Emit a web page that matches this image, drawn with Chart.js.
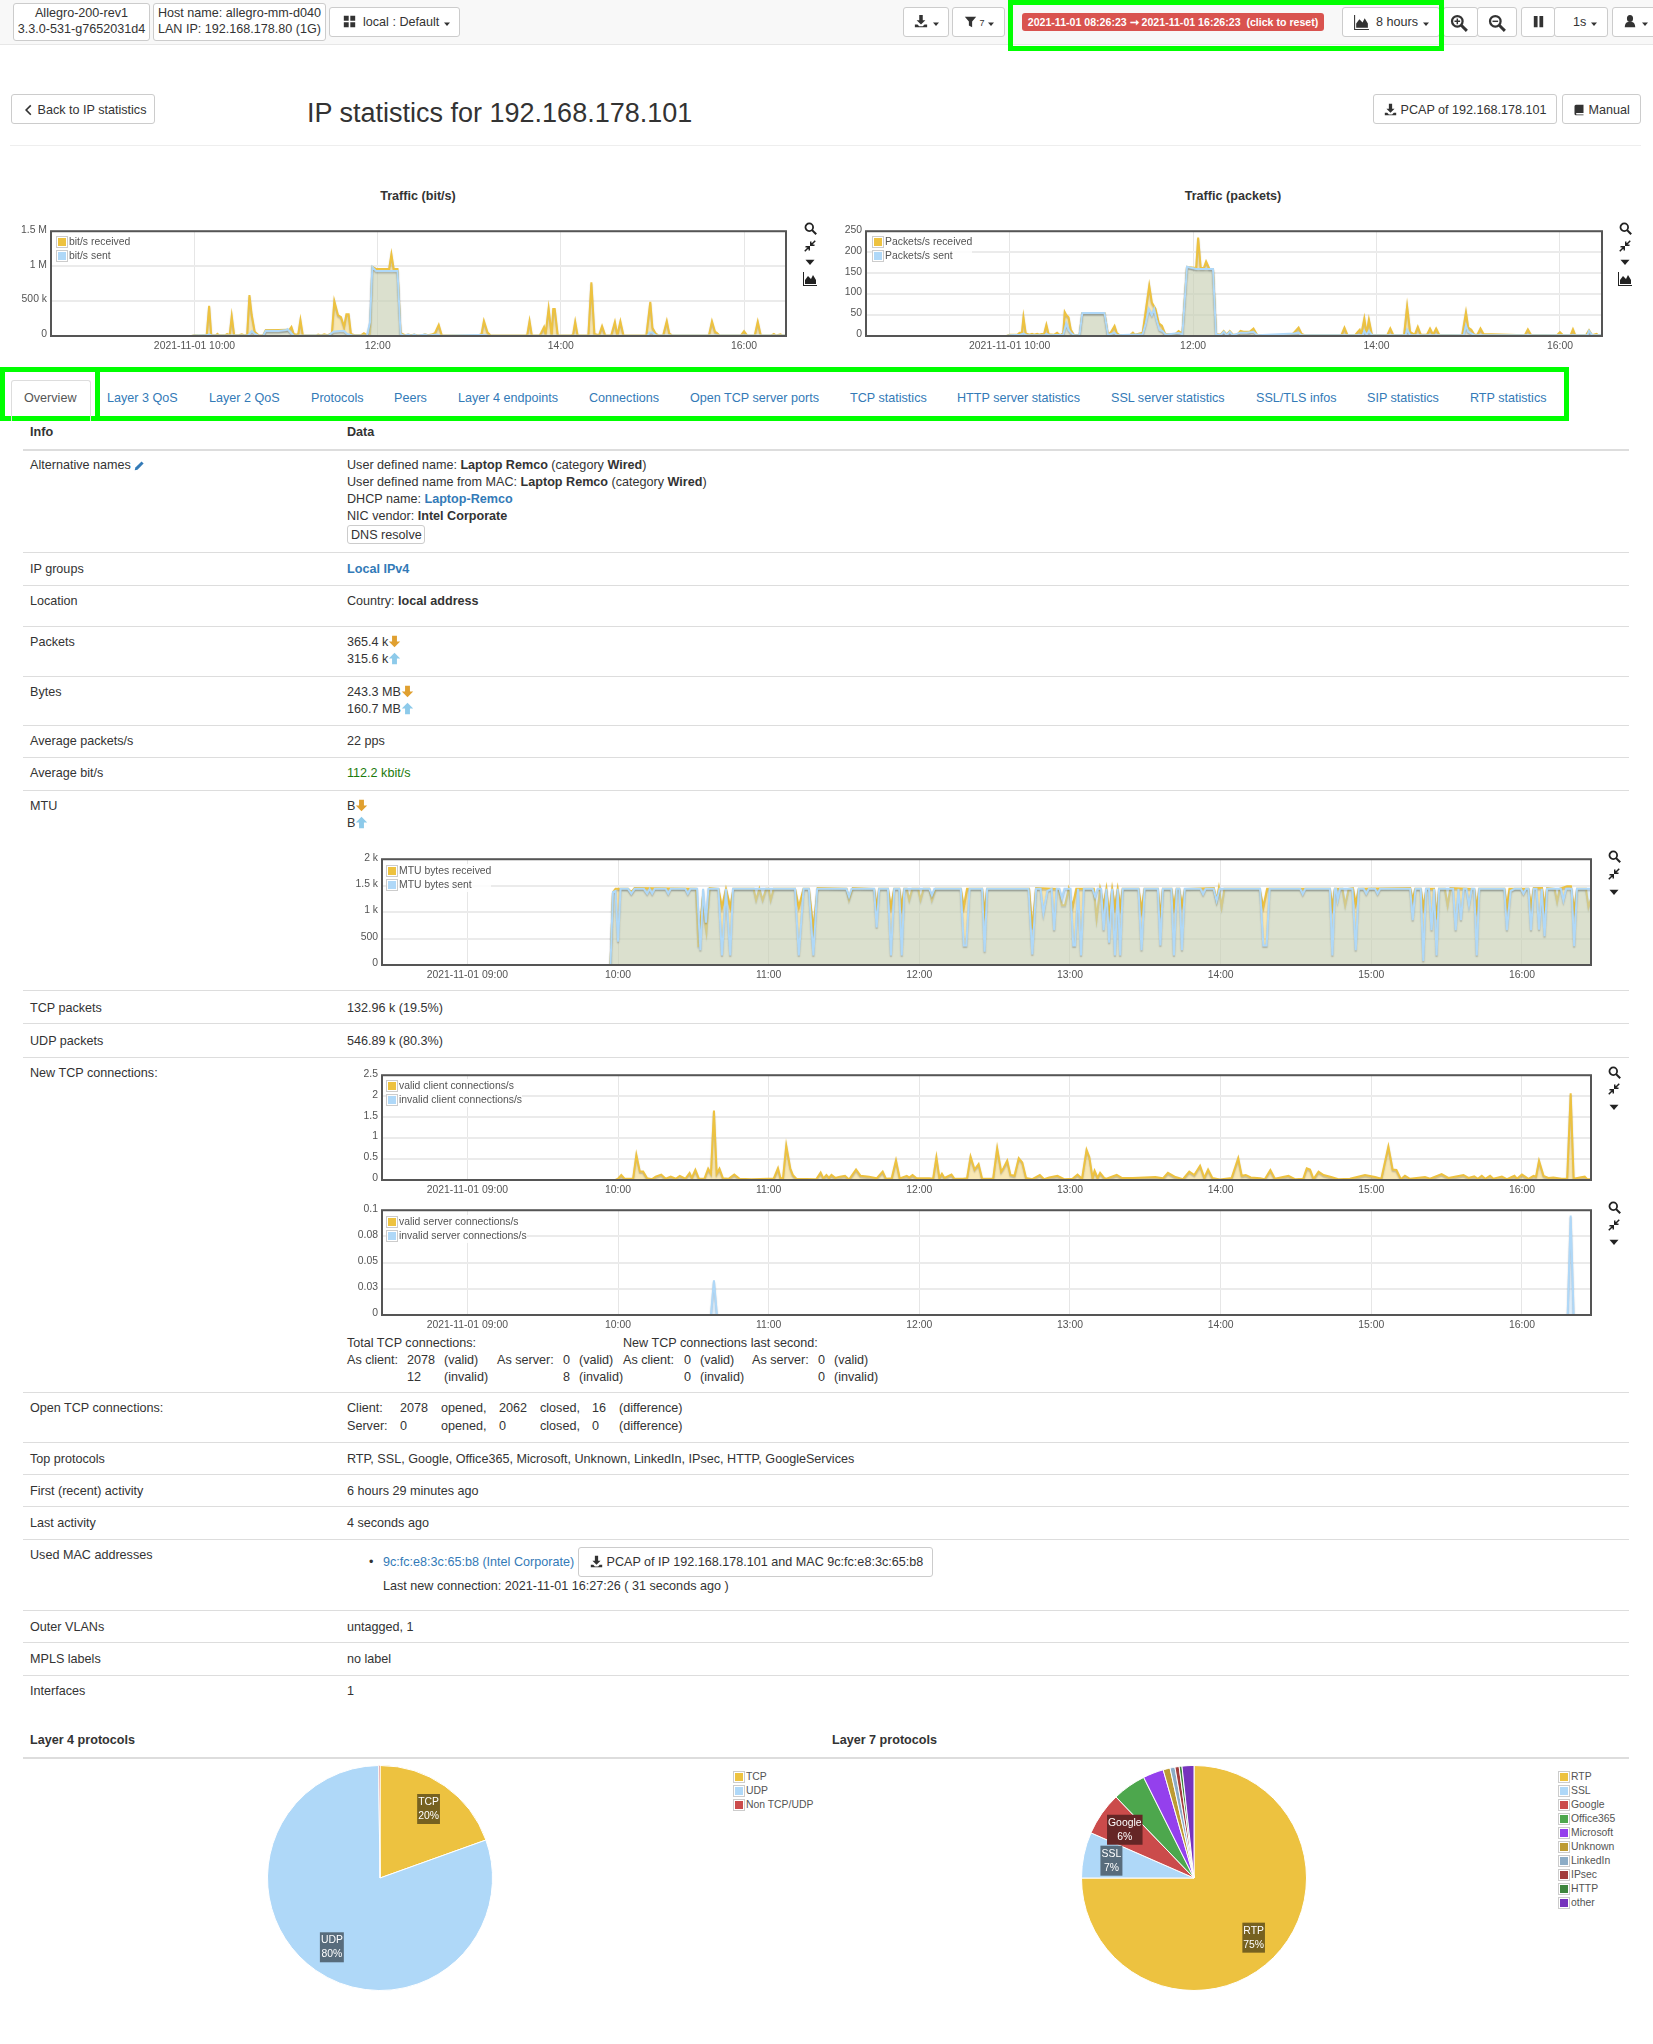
<!DOCTYPE html>
<html>
<head>
<meta charset="utf-8">
<title>IP statistics for 192.168.178.101</title>
<script src="https://cdn.jsdelivr.net/npm/chart.js@4"></script>
<style>
  html, body { margin: 0; background: #fff; }
  #page { position: relative; width: 1653px; height: 2044px; overflow: hidden;
          font: 12.6px "Liberation Sans", Arial, sans-serif; color: #333; }
  #page a { color: #337ab7; }
  .txt { position: absolute; white-space: nowrap; height: 16px; line-height: 16px; }
  .box { position: absolute; box-sizing: border-box; }
  .btn { position: absolute; box-sizing: border-box; border: 1px solid #ccc; border-radius: 3px; background: #fff; }
  .sep { position: absolute; left: 23px; width: 1606px; height: 1px; background: #ddd; }
  canvas { position: absolute; }
  svg { vertical-align: -2px; }
  .legend { position: absolute; background: rgba(255,255,255,0.85); font-size: 10.4px; color: #545454; }
  .legend i { display: inline-block; box-sizing: border-box; width: 12px; height: 12px; border: 1px solid #ccc;
              padding: 1px; margin-right: 1px; vertical-align: middle; background-clip: content-box; }
  .legend div { height: 14px; line-height: 14px; white-space: nowrap; }
</style>
</head>
<body>
<div id="page"></div>
<script>
// x values are minutes after 10:00, pairs are [minute, value]
const timeRange = [-94, 387.5];
const ticks2h = [0, 120, 240, 360];
const labels2h = ['2021-11-01 10:00', '12:00', '14:00', '16:00'];
const ticks1h = [-60, 0, 60, 120, 180, 240, 300, 360];
const labels1h = ['2021-11-01 09:00', '10:00', '11:00', '12:00', '13:00', '14:00', '15:00', '16:00'];

const bitsReceived = [[-94,0],[-2,0],[0,12000],[3,8000],[8,15000],[9.6,433000],[11,15000],[14,12000],[15,30000],[16,10000],[20,10000],[21.4,30000],[23,10000],[24.4,288000],[26,12000],[29,10000],[31,25000],[33,8000],[34.5,20000],[36,586000],[37.5,300000],[39.5,60000],[42,12000],[45,8000],[46.7,85000],[55,85000],[60,90000],[62,85000],[63.5,130000],[65,30000],[67,20000],[68,30000],[69.4,230000],[71,10000],[80,8000],[81,20000],[83,8000],[85,25000],[87,10000],[90,40000],[91.6,500000],[94,300000],[96,270000],[98,130000],[99.5,310000],[101,310000],[102.5,30000],[105,10000],[109,10000],[111,40000],[113,10000],[115,30000],[116.5,990000],[119,960000],[127.5,960000],[129,1170000],[130.5,960000],[133,960000],[135,40000],[138,12000],[140,20000],[142,10000],[144,20000],[146,8000],[149,8000],[151,25000],[153,10000],[156,25000],[157.5,40000],[160,160000],[162,10000],[165,6000],[185,8000],[187,20000],[188,25000],[189.6,215000],[192,50000],[194,8000],[217,6000],[218,20000],[219.5,215000],[221,8000],[226,8000],[227,40000],[229,130000],[230,30000],[232,395000],[234,10000],[235,385000],[236,385000],[238,8000],[247,8000],[248,20000],[249.4,205000],[251,8000],[258,8000],[260,770000],[262,30000],[265,10000],[267,140000],[269,12000],[273,8000],[275.4,200000],[277,12000],[279,210000],[281,10000],[296,8000],[298.6,490000],[300,120000],[302,40000],[304,8000],[307,8000],[309.4,215000],[311,40000],[313,8000],[337,8000],[339,210000],[341,60000],[342,50000],[344,8000],[358,8000],[360,70000],[362,8000],[367,8000],[369,205000],[371,8000],[378,8000],[379.6,30000],[381,8000],[384,25000],[385,8000],[387.5,8000]];
const bitsSent = [[-94,0],[-2,0],[0,8000],[8,10000],[9.6,25000],[11,8000],[35,10000],[36,25000],[37.5,70000],[39.5,30000],[42,5000],[45,5000],[46.7,75000],[55,70000],[60,85000],[61,100000],[63,50000],[65,5000],[88,10000],[91,60000],[95,70000],[98,70000],[100,30000],[103,10000],[113,5000],[115,200000],[116.5,990000],[119,930000],[127,930000],[133,930000],[135,30000],[137,5000],[140,20000],[142,5000],[144,20000],[146,5000],[151,20000],[153,8000],[159,20000],[161,5000],[186,15000],[190,15000],[192,5000],[297,8000],[298,50000],[300,50000],[302,10000],[387.5,8000]];

const packetsReceived = [[-94,0],[-2,0],[0,3],[5,3],[6.5,8],[8,8],[9,45],[10.5,6],[13,3],[14.6,5],[16,3],[18,5],[19.5,3],[20.7,5],[22.5,5],[24,27],[25.5,4],[29,3],[31,8],[33,2],[35,6],[36,57],[37,50],[38.5,45],[40,15],[42,3],[45.7,2],[47.5,55],[62,55],[64.3,3],[66,8],[68.6,24],[70,8],[72,2],[79,3],[80.6,8],[82,3],[85,6],[87,8],[91.3,120],[93,80],[95.4,65],[97.6,30],[99.6,25],[101.7,5],[108,3],[110.5,12],[113,5],[116,165],[122,162],[123.3,235],[125,162],[127,162],[128.5,178],[130.7,160],[133,160],[135,5],[138,3],[140,12],[142,3],[144,12],[146,3],[149,3],[151,12],[153,10],[157,10],[159.5,18],[162,2],[184,2],[186,8],[189,20],[191,5],[193,2],[217,2],[219,20],[221,2],[226,2],[227.7,10],[229,15],[230,4],[232,42],[233.5,5],[235,39],[237,3],[247,2],[249,18],[251,2],[258,2],[260,71],[262,10],[265,3],[267,22],[269,3],[273,3],[275,18],[277,3],[279,18],[281,3],[296,2],[298.5,57],[300,20],[302,15],[304,3],[306,3],[308,18],[310,5],[337,2],[339,16],[341,3],[358,2],[360,9],[362,2],[367,2],[368.5,16],[370,2],[377,2],[379,14],[381,2],[384,5],[385,2],[387.5,2]];
const packetsSent = [[-94,0],[-2,0],[0,2],[7,3],[9,6],[11,2],[23,2],[24,5],[26,2],[35,3],[37,30],[38.5,15],[40,8],[42,2],[45.7,2],[47.5,55],[62,55],[64.3,2],[68.6,8],[70,2],[87,4],[89,30],[91,65],[93,50],[94.5,65],[96,40],[98,15],[100,12],[102,3],[110.5,7],[113,4],[116,165],[122,160],[133,160],[135,4],[138,2],[140,10],[142,2],[144,10],[146,2],[151,8],[155,8],[159.5,10],[162,2],[186,6],[189,8],[191,2],[231,2],[232,12],[233.5,3],[235,12],[237,2],[259,2],[260,15],[262,2],[297,2],[298.5,25],[300,10],[302,6],[304,2],[378,2],[379,12],[381,2],[387.5,2]];

const mtuReceived = [[-94,0],[-3,0],[-2,1380],[-1,1440],[4,1440],[5.3,1380],[6.6,1455],[31,1440],[32,340],[33.5,1150],[35.2,630],[36.5,1455],[40,1440],[41.4,1100],[43,1440],[44.7,1100],[46,1440],[54,1440],[55,1230],[56.3,1440],[57.6,1230],[59,1440],[60,1440],[60.8,1230],[62,1440],[70.5,1440],[72,1100],[73.9,1440],[76,1440],[77.8,690],[79.5,1455],[91,1440],[92,1230],[93.5,1455],[102,1440],[103,1100],[104,1440],[107.5,1440],[108.7,1100],[110,1440],[112,1440],[113,1100],[114,1440],[115,1440],[116,1230],[117.2,1440],[119.5,1440],[120.5,1230],[121.7,1440],[124,1440],[125,1230],[126.5,1440],[136.5,1440],[137.7,1100],[139,1440],[145,1440],[146,1000],[147,1440],[163.7,1440],[165,690],[166.5,1455],[175.5,1440],[176.8,1130],[178,1130],[179.5,1440],[181,1100],[182.5,1440],[189.5,1440],[190.6,880],[192,1440],[193.4,1130],[194.5,1440],[195.6,940],[196.8,1440],[197.9,1100],[199,1440],[200,1100],[201,1440],[207.3,1440],[208.5,1040],[209.7,1440],[215,1440],[216,910],[217,1440],[220.4,1440],[221.4,1100],[222.5,1440],[223.5,1440],[224.6,1130],[225.8,1440],[237.3,1455],[238.4,1210],[239.3,1455],[240.4,1100],[241.5,1440],[255.5,1440],[257,1100],[258.5,1440],[283.5,1440],[284.5,1100],[285.5,1440],[288.5,1440],[289.6,1130],[291,1440],[292.7,1455],[293.8,1160],[295,1440],[315.5,1455],[316.5,1230],[317.5,1440],[319.7,1440],[320.7,1100],[322,1440],[325,1440],[326,880],[327,1440],[329.3,1440],[330.4,1130],[331.5,1455],[341,1440],[342,1070],[343,1440],[353,1440],[354,1100],[355,1440],[362.6,1440],[363.6,1100],[364.7,1455],[368,1455],[369,1100],[370,1455],[373,1440],[374,1200],[375,1440],[378,1490],[379.5,1490],[380.8,1040],[382,1440],[385.5,1440],[386.5,1100],[387.5,1250]];
const mtuSent = [[-94,0],[-3,0],[-2,1380],[-1,1400],[0,440],[1,1440],[4,1440],[5.3,1350],[6.6,1440],[10.3,1440],[11.6,1350],[12.6,1440],[13.6,1350],[14.6,1440],[19,1440],[20,1350],[21,1440],[26.8,1440],[27.8,1350],[28.8,1440],[31.5,1440],[32.8,280],[33.9,1440],[35,800],[36,1440],[40,1440],[41.4,180],[43,1440],[44.7,180],[45.8,1440],[70.5,1440],[72,180],[73.9,1440],[76,1440],[77.8,180],[79.3,1440],[91,1440],[92,1290],[93,1440],[102,1440],[103,710],[104,1440],[107.5,1440],[108.7,180],[110,1440],[112,1440],[113,180],[114,1440],[124,1440],[125,1320],[126,1440],[136.5,1440],[137.7,370],[138.7,370],[140,1440],[145,1440],[146,250],[147,1440],[163.5,1440],[165,200],[166.5,1440],[168.3,1440],[169.4,975],[171,1400],[172.7,1440],[173.7,660],[174.7,1440],[175.8,1440],[176.8,1260],[177.8,1440],[180.2,1440],[181.3,370],[182,370],[183.2,1440],[184.4,180],[185.5,1440],[189,1440],[190,1290],[191,1440],[192.4,1440],[193.4,660],[194.5,1440],[195.6,420],[196.8,1440],[197.9,180],[199,1440],[200,180],[201,1440],[207.3,1440],[208.5,280],[209.7,1440],[215,1440],[216,370],[217,1440],[220.4,1440],[221.4,180],[222.5,1440],[223.6,1440],[224.6,280],[225.7,1440],[232,1440],[233,1340],[234,1440],[237.2,1440],[238.4,1210],[239.6,1440],[255.7,1440],[257,370],[258.3,370],[259.5,1440],[271.7,1440],[272.7,1340],[273.7,1440],[283.5,1440],[284.5,180],[285.5,1440],[286,1440],[286.6,1230],[287.5,1440],[292.5,1440],[293.8,280],[295,1440],[297,1440],[298,1350],[299,1440],[301.5,1440],[302.5,1350],[303.5,1440],[315.5,1440],[316.5,850],[317.6,1440],[319.7,1440],[320.7,75],[321.8,1440],[323,1440],[324,660],[325,1440],[326,180],[327,1440],[332.6,1440],[333.6,660],[334.7,1440],[335.7,850],[336.8,1440],[337.9,1440],[338.9,1130],[340,1440],[341,1440],[342,180],[343,1440],[353,1440],[354,660],[355.5,1400],[357,1440],[359.6,1440],[360.6,1350],[361.6,1440],[362.6,1440],[363.6,660],[364.7,1440],[365.8,1440],[366.8,670],[367.9,1440],[369,545],[370,1440],[375.5,1440],[376.5,1220],[377.6,1440],[379.8,1440],[380.8,355],[381.9,1440],[387.5,1440]];

const clientValid = [[-94,0],[-1,0],[0,0.03],[1.3,0.12],[2.6,0.03],[6,0.03],[7.3,0.6],[8.7,0.2],[10,0.2],[11.6,0.04],[13.6,0.02],[15,0.08],[17.2,0.13],[19,0.03],[21,0.08],[23,0.03],[24.6,0.1],[26.8,0.03],[28.5,0.17],[29.4,0.05],[30.8,0.24],[32.2,0.03],[34.4,0.03],[35.9,0.27],[37,0.15],[38.2,1.66],[39.3,0.15],[40.4,0.27],[41.8,0.04],[44,0.03],[46.3,0.13],[48.4,0.03],[53,0.02],[60,0.03],[62,0.03],[63.7,0.28],[64.7,0.04],[65.7,0.04],[67,0.82],[68.6,0.28],[69.6,0.12],[71,0.03],[79,0.02],[80.7,0.18],[81.8,0.04],[83,0.12],[84,0.05],[85,0.12],[86.5,0.05],[88.4,0.08],[90.4,0.1],[92,0.01],[94.8,0.25],[96.6,0.1],[100,0.08],[103,0.04],[105.4,0.2],[106.7,0.03],[109,0.04],[110.7,0.47],[112.2,0.04],[115,0.1],[116,0.06],[117.3,0.12],[118.9,0.04],[124,0.04],[125.5,0.03],[126.8,0.54],[128,0.05],[129,0.15],[130,0.05],[132.8,0.13],[134,0.03],[137.4,0.03],[139,0.04],[140.4,0.56],[142,0.25],[143.6,0.38],[145,0.03],[149.4,0.03],[151,0.76],[152.6,0.2],[153.5,0.28],[155,0.46],[156.3,0.12],[157.9,0.1],[159.6,0.52],[161,0.42],[162.5,0.05],[165,0.02],[168,0.12],[169.7,0.02],[171.7,0.06],[175,0.1],[177.7,0.02],[181,0.03],[183,0.13],[184.8,0.03],[186.6,0.72],[187.7,0.55],[189,0.05],[189.8,0.22],[191,0.05],[192,0.17],[193.6,0.05],[194.5,0.03],[198.6,0.12],[200.6,0.05],[205,0.05],[214,0.07],[217,0.04],[219,0.17],[222,0.07],[225,0.02],[227.5,0.2],[229.5,0.12],[231.8,0.34],[233.5,0.05],[235,0.25],[236.7,0.05],[239.7,0.01],[244.4,0.05],[247,0.52],[248.4,0.1],[250,0.12],[252,0.06],[255.7,0.04],[257.6,0.02],[259.8,0.24],[261.6,0.03],[267,0.1],[269.6,0.02],[272.9,0.03],[274.3,0.28],[275.6,0.25],[277,0.02],[279,0.2],[281,0.12],[284,0.07],[286.9,0.02],[291.5,0.03],[297.5,0.12],[301.5,0.07],[304,0.03],[306.8,0.8],[308.5,0.25],[310,0.24],[311.8,0.02],[313.4,0.1],[315.4,0.03],[321.4,0.07],[323.4,0.03],[328,0.14],[330.7,0.05],[336.7,0.12],[338.7,0.05],[341,0.09],[342.4,0.03],[344,0.1],[345.4,0.03],[347.3,0.1],[348.6,0.03],[352,0.08],[354,0.02],[357,0.1],[358,0.03],[360,0.13],[362.6,0.03],[364.6,0.1],[365.6,0.08],[366.8,0.46],[368.6,0.1],[370.5,0.05],[372.5,0.06],[375.8,0.03],[378,0.03],[379.4,2.07],[380.6,0.03],[383,0.06],[385,0.08],[386,0.02],[387.5,0.02]];
const clientInvalid = [[-94,0],[387.5,0]];
const serverValid = [[-94,0],[387.5,0]];
const serverInvalid = [[-94,0],[37,0],[38.2,0.033],[39.4,0],[378.2,0],[379.4,0.095],[380.6,0],[387.5,0]];

const bitsYTicks = [0, 500000, 1000000, 1500000];
const bitsYLabels = ['0', '500 k', '1 M', '1.5 M'];
const packetsYTicks = [0, 50, 100, 150, 200, 250];
const packetsYLabels = ['0', '50', '100', '150', '200', '250'];
const mtuYTicks = [0, 500, 1000, 1500, 2000];
const mtuYLabels = ['0', '500', '1 k', '1.5 k', '2 k'];
const clientYTicks = [0, 0.5, 1, 1.5, 2, 2.5];
const clientYLabels = ['0', '0.5', '1', '1.5', '2', '2.5'];
const serverYTicks = [0, 0.025, 0.05, 0.075, 0.1];
const serverYLabels = ['0', '0.03', '0.05', '0.08', '0.1'];

const l4Names = ['TCP', 'UDP', 'Non TCP/UDP'];
const l4Values = [132.96, 546.89, 1.3];
const l7Names = ['RTP', 'SSL', 'Google', 'Office365', 'Microsoft', 'Unknown', 'LinkedIn', 'IPsec', 'HTTP', 'other'];
const l7Values = [74.7, 6.55, 6.2, 4.8, 2.95, 1, 0.7, 0.6, 0.4, 1.7];
const PIE_COLORS = ['#edc240', '#afd8f8', '#cb4b4b', '#4da74d', '#9440ed', '#bd9b33', '#8cacc6', '#a23c3c', '#3d853d', '#7633bd'];
const YELLOW = '#edc240', BLUE = '#afd8f8';

const page = document.getElementById('page');

function add(cls, style, html) {
  const el = document.createElement('div');
  el.className = cls;
  el.style.cssText = style;
  if (html) el.innerHTML = html;
  page.appendChild(el);
  return el;
}

function put(x, cy, html, style) {
  return add('txt', `left:${x}px;top:${cy - 7.5}px;${style || ''}`, html);
}

function sep(y, thick) {
  add('sep', `top:${y}px;${thick ? 'height:2px;' : ''}`);
}

function btn(x1, y1, x2, y2, style) {
  add('btn', `left:${x1}px;top:${y1}px;width:${x2 - x1}px;height:${y2 - y1}px;${style || ''}`);
}

const ICONS = {
  search: '<circle cx="6.5" cy="6.5" r="4.7" fill="none" stroke="C" stroke-width="2.2"/><path d="M10 10l5 5" stroke="C" stroke-width="2.6"/>',
  zoomin: '<circle cx="6.5" cy="6.5" r="4.7" fill="none" stroke="C" stroke-width="2"/><path d="M10 10l5 5" stroke="C" stroke-width="2.6"/><path d="M4 6.5h5M6.5 4v5" stroke="C" stroke-width="1.3"/>',
  zoomout: '<circle cx="6.5" cy="6.5" r="4.7" fill="none" stroke="C" stroke-width="2"/><path d="M10 10l5 5" stroke="C" stroke-width="2.6"/><path d="M4 6.5h5" stroke="C" stroke-width="1.3"/>',
  resize: '<path d="M15 1L10 6M9 2v5h5M1 15l5-5M2 9h5v5" fill="none" stroke="C" stroke-width="2"/>',
  caret: '<path d="M2 5h12l-6 7z" fill="C"/>',
  area: '<path d="M1 1h1v13h13v1H1zM3 13V9l3-4 3 3 2-4 3 5v4z" fill="C"/>',
  download: '<path d="M6 1h4v6h3l-5 5-5-5h3zM1 12h3l2 2h4l2-2h3v3H1z" fill="C"/>',
  filter: '<path d="M1 2h14l-5 6v7l-4-2V8z" fill="C"/>',
  th: '<path d="M1 1h6v6H1zM9 1h6v6H9zM1 9h6v6H1zM9 9h6v6H9z" fill="C"/>',
  pause: '<path d="M3 2h4v12H3zM9 2h4v12H9z" fill="C"/>',
  user: '<path d="M8 1a3.5 4 0 1 1 0 8 3.5 4 0 1 1 0-8zM2 15c0-4 2-6 4-6h4c2 0 4 2 4 6z" fill="C"/>',
  chevron: '<path d="M11 1L4 8l7 7 1.5-1.5L7 8l5.5-5.5z" fill="C"/>',
  book: '<path d="M4 1h10v11H5a1 1 0 0 0 0 2h9v1H4a2 2 0 0 1-2-2V3a2 2 0 0 1 2-2z" fill="C"/>',
  pencil: '<path d="M11 2l3 3-9 9-4 1 1-4z" fill="C"/>',
  down: '<path d="M5 1h6v7h4l-7 7-7-7h4z" fill="C"/>',
  up: '<path d="M8 1l7 7h-4v7H5V8H1z" fill="C"/>'
};

function icon(name, size, color) {
  const body = ICONS[name].replace(/C"/g, (color || '#333') + '"');
  return `<svg width="${size}" height="${size}" viewBox="0 0 16 16">${body}</svg>`;
}

function chartIcons(x, y1, y2, y3, y4) {
  put(x - 6, y1, icon('search', 13, '#222'));
  put(x - 6, y2, icon('resize', 12, '#222'));
  put(x - 6, y3, icon('caret', 12, '#222'));
  if (y4) put(x - 8, y4, icon('area', 16, '#222'));
}

function legend(x, y, names, colors) {
  const rows = names.map((n, i) =>
    `<div><i style="background-color:${colors[i]}"></i>${n}</div>`).join('');
  add('legend', `left:${x}px;top:${y}px;`, rows);
}

// ---- top bar
add('box', 'left:0;top:0;width:1653px;height:45px;background:#f8f8f8;border-bottom:1px solid #e7e7e7;');
btn(13, 3, 150, 41); btn(153, 3, 326, 41); btn(329, 7, 460, 37);
put(13, 12, 'Allegro-200-rev1', 'width:137px;text-align:center;');
put(13, 28.5, '3.3.0-531-g7652031d4', 'width:137px;text-align:center;');
put(153, 12, 'Host name: allegro-mm-d040', 'width:173px;text-align:center;');
put(153, 28.5, 'LAN IP: 192.168.178.80 (1G)', 'width:173px;text-align:center;');
put(343, 21, icon('th', 13) + '&nbsp;&nbsp;local : Default ' + icon('caret', 8));
btn(903, 7, 949, 37); btn(952, 7, 1005, 37);
put(914, 21, icon('download', 14) + ' ' + icon('caret', 8));
put(964, 21, icon('filter', 13) + '<span style="font-size:9px"> 7 </span>' + icon('caret', 8));
add('box', 'left:1022px;top:13px;width:302px;height:18px;background:#d9534f;border-radius:3px;');
put(1022, 21.5, '2021-11-01 08:26:23 ➞ 2021-11-01 16:26:23 &nbsp;(click to reset)',
  'width:302px;text-align:center;color:#fff;font-weight:bold;font-size:10.6px;');
btn(1342, 7, 1440, 37);
put(1353, 21, icon('area', 17));
put(1376, 21, '8 hours ' + icon('caret', 8));
btn(1443, 7, 1478, 37); btn(1477, 7, 1517, 37); btn(1521, 7, 1555, 37); btn(1554, 7, 1608, 37); btn(1612, 7, 1660, 37);
put(1450, 21, icon('zoomin', 18));
put(1488, 21, icon('zoomout', 18));
put(1531, 21, icon('pause', 15));
put(1573, 21, '1s ' + icon('caret', 8));
put(1623, 21, icon('user', 14) + ' ' + icon('caret', 8));

// ---- green highlight rectangles of the screenshot
add('box', 'left:1008px;top:0;width:436px;height:51px;border:5px solid #00ff00;');
add('box', 'left:0;top:367px;width:100px;height:54px;border:5px solid #00ff00;');
add('box', 'left:95px;top:367px;width:1474px;height:54px;border:5px solid #00ff00;');

// ---- title row
btn(11, 94, 155, 124);
put(22, 109, icon('chevron', 12) + ' Back to IP statistics');
put(307, 112, 'IP statistics for 192.168.178.101', 'font-size:27px;height:32px;line-height:32px;top:97px;');
btn(1373, 94, 1557, 124); btn(1562, 94, 1641, 124);
put(1384, 109, icon('download', 13) + ' PCAP of 192.168.178.101');
put(1573, 109, icon('book', 12) + ' Manual');
add('sep', 'top:145px;left:10px;width:1631px;background:#eee;');
put(218, 195, 'Traffic (bit/s)', 'width:400px;text-align:center;font-weight:bold;');
put(1033, 195, 'Traffic (packets)', 'width:400px;text-align:center;font-weight:bold;');

// ---- tabs
add('box', 'left:11px;top:380px;width:80px;height:41px;border:1px solid #ddd;border-bottom:none;border-radius:3px 3px 0 0;');
put(24, 397, 'Overview', 'color:#555;');
const tabNames = ['Layer 3 QoS', 'Layer 2 QoS', 'Protocols', 'Peers', 'Layer 4 endpoints', 'Connections',
  'Open TCP server ports', 'TCP statistics', 'HTTP server statistics', 'SSL server statistics',
  'SSL/TLS infos', 'SIP statistics', 'RTP statistics'];
const tabX = [107, 209, 311, 394, 458, 589, 690, 850, 957, 1111, 1256, 1367, 1470];
tabNames.forEach((n, i) => put(tabX[i], 397, n, 'color:#337ab7;'));

// ---- table
const L = 30, R = 347;
put(L, 431, 'Info', 'font-weight:bold;');
put(R, 431, 'Data', 'font-weight:bold;');
sep(449, true);
put(L, 464, 'Alternative names ' + icon('pencil', 11, '#337ab7'));
put(R, 464, 'User defined name: <b>Laptop Remco</b> (category <b>Wired</b>)');
put(R, 481, 'User defined name from MAC: <b>Laptop Remco</b> (category <b>Wired</b>)');
put(R, 498.5, 'DHCP name: <a><b>Laptop-Remco</b></a>');
put(R, 515.5, 'NIC vendor: <b>Intel Corporate</b>');
btn(347, 525, 425, 544);
put(351, 534.5, 'DNS resolve');
sep(552);
put(L, 568, 'IP groups');
put(R, 568, '<a><b>Local IPv4</b></a>');
sep(585);
put(L, 600, 'Location');
put(R, 600, 'Country: <b>local address</b>');
sep(626);
const DOWN = icon('down', 13, '#e0a030'), UP = icon('up', 13, '#8dcaea');
put(L, 641, 'Packets');
put(R, 641, '365.4 k' + DOWN);
put(R, 658, '315.6 k' + UP);
sep(676);
put(L, 691, 'Bytes');
put(R, 691, '243.3 MB' + DOWN);
put(R, 708, '160.7 MB' + UP);
sep(725);
put(L, 740, 'Average packets/s');
put(R, 740, '22 pps');
sep(757);
put(L, 772, 'Average bit/s');
put(R, 772, '112.2 kbit/s', 'color:#1c7a0c;');
sep(790);
put(L, 805, 'MTU');
put(R, 805, 'B' + DOWN);
put(R, 822, 'B' + UP);
sep(990);
put(L, 1007, 'TCP packets');
put(R, 1007, '132.96 k (19.5%)');
sep(1023);
put(L, 1040, 'UDP packets');
put(R, 1040, '546.89 k (80.3%)');
sep(1057);
put(L, 1072, 'New TCP connections:');
put(R, 1342, 'Total TCP connections:');
put(623, 1342, 'New TCP connections last second:');
const row2X = [347, 407, 444, 497, 563, 579, 623, 684, 700, 752, 818, 834];
['As client:', '2078', '(valid)', 'As server:', '0', '(valid)', 'As client:', '0', '(valid)', 'As server:', '0', '(valid)']
  .forEach((s, i) => put(row2X[i], 1359, s));
['', '12', '(invalid)', '', '8', '(invalid)', '', '0', '(invalid)', '', '0', '(invalid)']
  .forEach((s, i) => { if (s) put(row2X[i], 1376, s); });
sep(1392);
put(L, 1407, 'Open TCP connections:');
const openX = [347, 400, 441, 499, 540, 592, 619];
['Client:', '2078', 'opened,', '2062', 'closed,', '16', '(difference)'].forEach((s, i) => put(openX[i], 1407, s));
['Server:', '0', 'opened,', '0', 'closed,', '0', '(difference)'].forEach((s, i) => put(openX[i], 1425, s));
sep(1442);
put(L, 1458, 'Top protocols');
put(R, 1458, 'RTP, SSL, Google, Office365, Microsoft, Unknown, LinkedIn, IPsec, HTTP, GoogleServices');
sep(1474);
put(L, 1490, 'First (recent) activity');
put(R, 1490, '6 hours 29 minutes ago');
sep(1506);
put(L, 1522, 'Last activity');
put(R, 1522, '4 seconds ago');
sep(1539);
put(L, 1554, 'Used MAC addresses');
put(369, 1561, '•');
put(383, 1561, '<a>9c:fc:e8:3c:65:b8 (Intel Corporate)</a>');
btn(578, 1547, 933, 1577);
put(590, 1561, icon('download', 13) + ' PCAP of IP 192.168.178.101 and MAC 9c:fc:e8:3c:65:b8');
put(383, 1585, 'Last new connection: 2021-11-01 16:27:26 ( 31 seconds ago )');
sep(1610);
put(L, 1626, 'Outer VLANs');
put(R, 1626, 'untagged, 1');
sep(1642);
put(L, 1658, 'MPLS labels');
put(R, 1658, 'no label');
sep(1675);
put(L, 1690, 'Interfaces');
put(R, 1690, '1');
put(L, 1739, 'Layer 4 protocols', 'font-weight:bold;');
put(832, 1739, 'Layer 7 protocols', 'font-weight:bold;');
sep(1757, true);

// ---- charts
const framePlugin = {
  id: 'frame',
  beforeDatasetDraw(chart) {
    const c = chart.ctx;
    c.save();
    c.shadowColor = 'rgba(0,0,0,0.22)';
    c.shadowOffsetY = 1.5;
    c.shadowBlur = 1.5;
  },
  afterDatasetDraw(chart) {
    chart.ctx.restore();
  },
  afterDraw(chart) {
    const c = chart.ctx, a = chart.chartArea;
    c.save();
    c.strokeStyle = '#555';
    c.lineWidth = 2;
    c.strokeRect(a.left, a.top, a.width, a.height);
    c.restore();
  }
};

function toXY(pairs) {
  return pairs.map(p => ({ x: p[0], y: p[1] }));
}

function drawLines(plot, received, sent, xTicks, xLabels, yTicks, yLabels) {
  const yw = 45, xh = 20, top = 8, right = 4;
  const canvas = document.createElement('canvas');
  canvas.width = plot.right - plot.left + yw + right;
  canvas.height = plot.bottom - plot.top + top + xh;
  canvas.style.left = (plot.left - yw) + 'px';
  canvas.style.top = (plot.top - top) + 'px';
  page.appendChild(canvas);
  const dataset = (pairs, color, fill, order) => ({
    data: toXY(pairs), borderColor: color, backgroundColor: fill, borderWidth: 2,
    fill: 'origin', pointRadius: 0, tension: 0, order
  });
  new Chart(canvas.getContext('2d'), {
    type: 'line',
    data: {
      datasets: [
        dataset(received, YELLOW, 'rgba(237,194,64,0.4)', 2),
        dataset(sent, BLUE, 'rgba(175,216,248,0.4)', 1)
      ]
    },
    options: {
      responsive: false,
      animation: false,
      parsing: false,
      layout: { padding: { top, right, left: 0, bottom: 0 } },
      plugins: { legend: { display: false }, tooltip: { enabled: false } },
      scales: {
        x: {
          type: 'linear',
          min: timeRange[0], max: timeRange[1],
          afterBuildTicks: s => { s.ticks = xTicks.map(value => ({ value })); },
          afterFit: s => { s.height = xh; },
          grid: { color: '#e6e6e6', lineWidth: 1, drawTicks: false },
          border: { display: false },
          ticks: {
            autoSkip: false, maxRotation: 0, padding: 4, color: '#545454',
            font: { family: 'Liberation Sans', size: 10.4 },
            callback: (v, i) => xLabels[i]
          }
        },
        y: {
          min: yTicks[0], max: yTicks[yTicks.length - 1],
          afterBuildTicks: s => { s.ticks = yTicks.map(value => ({ value })); },
          afterFit: s => { s.width = yw; },
          grid: { color: '#ebebeb', lineWidth: 2, drawTicks: false },
          border: { display: false },
          ticks: {
            autoSkip: false, padding: 4, color: '#545454', labelOffset: -1.5,
            font: { family: 'Liberation Sans', size: 10.4 },
            callback: (v, i) => yLabels[i]
          }
        }
      }
    },
    plugins: [framePlugin]
  });
}

const sliceLabelPlugin = {
  id: 'sliceLabels',
  afterDraw(chart) {
    const c = chart.ctx, ds = chart.data.datasets[0];
    const total = ds.data.reduce((a, b) => a + b, 0);
    const arcs = chart.getDatasetMeta(0).data;
    c.save();
    c.font = '10.4px "Liberation Sans"';
    c.textAlign = 'center';
    c.textBaseline = 'middle';
    arcs.forEach((arc, i) => {
      const pct = ds.data[i] / total * 100;
      if (pct < 5) return;
      const mid = (arc.startAngle + arc.endAngle) / 2;
      const r = arc.outerRadius * 0.75;
      const px = arc.x + Math.cos(mid) * r, py = arc.y + Math.sin(mid) * r;
      const name = chart.data.labels[i];
      const w = Math.max(c.measureText(name).width, 20) + 2;
      c.fillStyle = ds.labelBoxColors[i];
      c.fillRect(px - w / 2, py - 15, w, 30);
      c.fillStyle = '#fff';
      c.fillText(name, px, py - 7);
      c.fillText(Math.round(pct) + '%', px, py + 7);
    });
    c.restore();
  }
};

function drawPie(cx, cy, names, values) {
  const size = 232;
  const canvas = document.createElement('canvas');
  canvas.width = size;
  canvas.height = size;
  canvas.style.left = (cx - size / 2) + 'px';
  canvas.style.top = (cy - size / 2) + 'px';
  page.appendChild(canvas);
  new Chart(canvas.getContext('2d'), {
    type: 'pie',
    data: {
      labels: names,
      datasets: [{
        data: values,
        backgroundColor: PIE_COLORS.slice(0, values.length),
        borderColor: '#fff',
        borderWidth: 1,
        labelBoxColors: ['#766120', '#586c7c', '#652626', '#265326', '#4a2076', '#5e4d19', '#465663', '#511e1e', '#1e421e', '#3b195e']
      }]
    },
    options: {
      responsive: false,
      animation: false,
      layout: { padding: 3 },
      plugins: { legend: { display: false }, tooltip: { enabled: false } }
    },
    plugins: [sliceLabelPlugin]
  });
}

drawLines({ left: 51, right: 786, top: 229, bottom: 336 }, bitsReceived, bitsSent, ticks2h, labels2h, bitsYTicks, bitsYLabels);
drawLines({ left: 866, right: 1602, top: 229, bottom: 336 }, packetsReceived, packetsSent, ticks2h, labels2h, packetsYTicks, packetsYLabels);
drawLines({ left: 382, right: 1591, top: 857, bottom: 965 }, mtuReceived, mtuSent, ticks1h, labels1h, mtuYTicks, mtuYLabels);
drawLines({ left: 382, right: 1591, top: 1073, bottom: 1180 }, clientValid, clientInvalid, ticks1h, labels1h, clientYTicks, clientYLabels);
drawLines({ left: 382, right: 1591, top: 1208, bottom: 1315 }, serverValid, serverInvalid, ticks1h, labels1h, serverYTicks, serverYLabels);
drawPie(379.5, 1878, l4Names, l4Values);
drawPie(1194, 1878, l7Names, l7Values);

legend(56, 235, ['bit/s received', 'bit/s sent'], [YELLOW, BLUE]);
legend(872, 235, ['Packets/s received', 'Packets/s sent'], [YELLOW, BLUE]);
legend(386, 864, ['MTU bytes received', 'MTU bytes sent'], [YELLOW, BLUE]);
legend(386, 1079, ['valid client connections/s', 'invalid client connections/s'], [YELLOW, BLUE]);
legend(386, 1215, ['valid server connections/s', 'invalid server connections/s'], [YELLOW, BLUE]);
legend(733, 1770, l4Names, PIE_COLORS);
legend(1558, 1770, l7Names, PIE_COLORS);

chartIcons(810, 228, 245, 261, 278);
chartIcons(1625, 228, 245, 261, 278);
chartIcons(1614, 856, 873, 891);
chartIcons(1614, 1072, 1088, 1106);
chartIcons(1614, 1207, 1224, 1241);
</script>
</body>
</html>
